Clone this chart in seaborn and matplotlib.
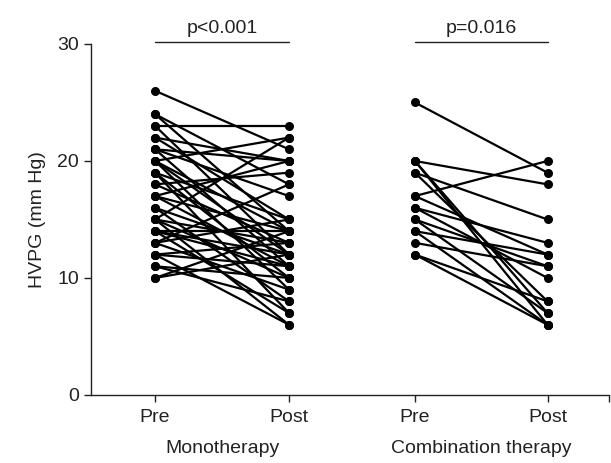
import matplotlib
matplotlib.use("Agg")
import matplotlib.pyplot as plt
import matplotlib.transforms as mtransforms
import pandas as pd
import seaborn as sns

# HVPG values (mm Hg), one pair per patient
mono_pre = [26, 24, 24, 23, 23, 22, 22, 21, 21, 21, 20, 20, 20, 20, 19, 19, 19, 18, 18, 17, 17,
            17, 16, 16, 15, 15, 15, 15, 14, 14, 14, 14, 13, 13, 13, 12, 12, 12, 11, 11, 10, 10]
mono_post = [21, 18, 14, 23, 12, 20, 15, 20, 11, 17, 22, 14, 9, 12, 15, 10, 7, 19, 13, 20, 11,
             14, 12, 8, 22, 13, 10, 6, 14, 11, 12, 7, 18, 15, 9, 11, 13, 6, 10, 8, 12, 14]
combo_pre = [25, 20, 20, 20, 19, 19, 17, 17, 16, 16, 15, 15, 14, 14, 13, 12, 12]
combo_post = [19, 18, 7, 6, 15, 8, 20, 12, 13, 10, 11, 7, 12, 6, 11, 8, 6]

tick_pos = [0, 1, 1.94, 2.93]
tick_labels = ["Pre", "Post", "Pre", "Post"]
groups = ["Monotherapy", "Combination therapy"]
pvals = ["p<0.001", "p=0.016"]

rows = []
for i, (a, b) in enumerate(zip(mono_pre, mono_post)):
    rows.append({"pid": f"m{i}", "x": tick_pos[0], "hvpg": a})
    rows.append({"pid": f"m{i}", "x": tick_pos[1], "hvpg": b})
for i, (a, b) in enumerate(zip(combo_pre, combo_post)):
    rows.append({"pid": f"c{i}", "x": tick_pos[2], "hvpg": a})
    rows.append({"pid": f"c{i}", "x": tick_pos[3], "hvpg": b})
df = pd.DataFrame(rows)

sns.set_style("ticks")
plt.rcParams["font.family"] = ["Liberation Sans", "DejaVu Sans"]
fs = 14
txt_col = "#222222"

fig = plt.figure(figsize=(6.11, 4.63), dpi=100)
ax = fig.add_axes([0.149, 0.147, 0.848, 0.758])

sns.lineplot(data=df, x="x", y="hvpg", units="pid", estimator=None, color="black",
             marker="o", markersize=6.5, markeredgewidth=0, linewidth=1.6, ax=ax)

xmax = 3.39
ax.set_xlim(-0.478, xmax)
ax.set_ylim(0, 30)
ax.set_yticks([0, 10, 20, 30])
ax.set_xticks(tick_pos + [xmax])
ax.set_xticklabels(tick_labels + [""])
ax.tick_params(labelsize=fs, length=5, width=1, colors=txt_col, labelcolor=txt_col)
ax.tick_params(axis="x", pad=5)
ax.set_xlabel("")
ax.set_ylabel("HVPG (mm Hg)", fontsize=fs, color=txt_col, labelpad=8)
for s in ["left", "bottom"]:
    ax.spines[s].set_color(txt_col)
    ax.spines[s].set_linewidth(1)
sns.despine(ax=ax)

# significance bars
for k in range(2):
    x0, x1 = tick_pos[2 * k], tick_pos[2 * k + 1]
    ax.plot([x0, x1], [30.2, 30.2], color=txt_col, lw=1, clip_on=False)
    ax.text((x0 + x1) / 2, 30.6, pvals[k], ha="center", va="bottom", fontsize=fs, color=txt_col)

# group labels under ticks
trans = mtransforms.blended_transform_factory(ax.transData, fig.transFigure)
for k in range(2):
    xm = (tick_pos[2 * k] + tick_pos[2 * k + 1]) / 2
    fig.text(xm, 0.012, groups[k], ha="center", va="bottom", fontsize=fs, color=txt_col,
             transform=trans)

fig.savefig("out.png", dpi=100)
